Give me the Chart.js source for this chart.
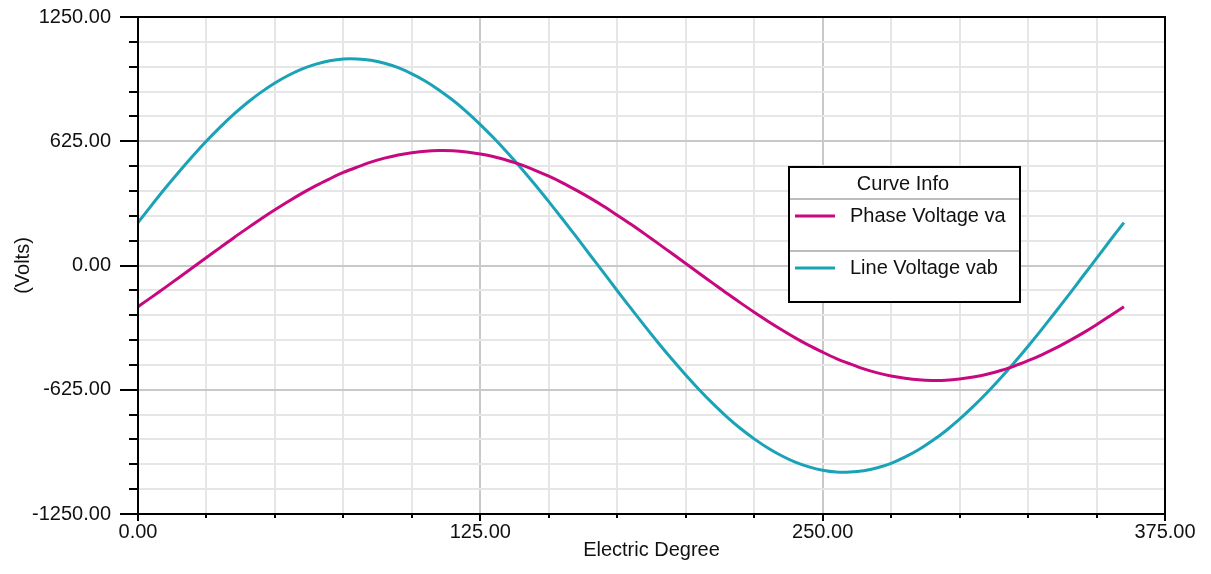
<!DOCTYPE html>
<html>
<head>
<meta charset="utf-8">
<script src="https://cdn.jsdelivr.net/npm/chart.js@4/dist/chart.umd.min.js"></script>
<style>
  html, body { margin: 0; padding: 0; background: #fff; }
  #wrap { width: 1211px; height: 574px; }
</style>
</head>
<body>
<div id="wrap"><canvas id="chart-volts" width="1211" height="574"></canvas></div>
<script>
/* electric degree samples, every 5 deg */
const DEGREES = [
  0, 5, 10, 15, 20, 25, 30, 35, 40, 45, 50, 55, 60, 65, 70, 75, 80, 85, 90, 95,
  100, 105, 110, 115, 120, 125, 130, 135, 140, 145, 150, 155, 160, 165, 170, 175,
  180, 185, 190, 195, 200, 205, 210, 215, 220, 225, 230, 235, 240, 245, 250, 255,
  260, 265, 270, 275, 280, 285, 290, 295, 300, 305, 310, 315, 320, 325, 330, 335,
  340, 345, 350, 355, 360
];
const PHASE_VA = [
  -207, -159, -110, -60, -10, 40, 90, 140, 188, 235, 280, 323, 364, 402, 436, 468,
  495, 520, 540, 556, 567, 575, 578, 577, 571, 561, 547, 528, 506, 479, 449, 416,
  379, 340, 298, 253, 207, 159, 110, 60, 10, -40, -90, -140, -188, -235, -280, -323,
  -364, -402, -436, -468, -495, -520, -540, -556, -567, -575, -578, -577, -571, -561,
  -547, -528, -506, -479, -449, -416, -379, -340, -298, -253, -207
];
const LINE_VAB = [
  216, 304, 390, 472, 551, 626, 696, 761, 820, 872, 918, 957, 989, 1013, 1030, 1039,
  1039, 1032, 1017, 995, 964, 927, 882, 831, 773, 709, 640, 566, 488, 406, 321, 234,
  145, 54, -36, -127, -216, -304, -390, -472, -551, -626, -696, -761, -820, -872,
  -918, -957, -989, -1013, -1030, -1039, -1039, -1032, -1017, -995, -964, -927, -882,
  -831, -773, -709, -640, -566, -488, -406, -321, -234, -145, -54, 36, 127, 216
];
const SERIES_NAMES = ['Phase Voltage va', 'Line Voltage vab'];
const SERIES_COLORS = ['#c8087f', '#1aa2b6'];
const X_TICKS = [0, 125, 250, 375];
const Y_TICKS = [-1250, -625, 0, 625, 1250];

const FONT = {family: 'Liberation Sans, Arial, sans-serif', size: 20};

function pts(ys) {
  return DEGREES.map((d, i) => ({x: d, y: ys[i]}));
}

const isMajorX = (v) => X_TICKS.includes(v);
const isMajorY = (v) => Y_TICKS.includes(v);

/* frame, outside ticks and the "Curve Info" box */
const frame = {
  id: 'frame',
  afterDraw(chart) {
    const {ctx, chartArea: a} = chart;
    const xs = chart.scales.x, ys = chart.scales.y;
    ctx.save();
    ctx.strokeStyle = '#000';
    ctx.lineWidth = 2;
    ctx.strokeRect(a.left, a.top, a.right - a.left, a.bottom - a.top);
    ctx.beginPath();
    for (let v = 0; v <= 375; v += 25) {
      const px = Math.round(xs.getPixelForValue(v));
      ctx.moveTo(px, a.bottom);
      ctx.lineTo(px, a.bottom + (isMajorX(v) ? 7 : 4));
    }
    for (let v = -1250; v <= 1250; v += 125) {
      const py = Math.round(ys.getPixelForValue(v));
      ctx.moveTo(a.left, py);
      ctx.lineTo(a.left - (isMajorY(v) ? 18 : 9), py);
    }
    ctx.stroke();

    // legend box
    const L = 789, T = 167, R = 1020, B = 302;
    ctx.fillStyle = '#fff';
    ctx.fillRect(L, T, R - L, B - T);
    ctx.strokeStyle = '#bdbdbd';
    ctx.lineWidth = 2;
    ctx.beginPath();
    ctx.moveTo(L, 199); ctx.lineTo(R, 199);
    ctx.moveTo(L, 251); ctx.lineTo(R, 251);
    ctx.stroke();
    ctx.strokeStyle = '#000';
    ctx.lineWidth = 2;
    ctx.strokeRect(L, T, R - L, B - T);

    ctx.font = '20px ' + FONT.family;
    ctx.fillStyle = '#111';
    ctx.textBaseline = 'middle';
    ctx.textAlign = 'center';
    ctx.fillText('Curve Info', 903, 184);
    ctx.textAlign = 'left';
    const rows = [216, 268];
    chart.data.datasets.forEach((ds, i) => {
      ctx.strokeStyle = ds.borderColor;
      ctx.lineWidth = 3;
      ctx.beginPath();
      ctx.moveTo(795, rows[i]);
      ctx.lineTo(835, rows[i]);
      ctx.stroke();
      ctx.fillText(ds.label, 850, rows[i]);
    });
    ctx.restore();
  },
};

new Chart(document.getElementById('chart-volts').getContext('2d'), {
  type: 'line',
  data: {
    datasets: [
      {label: SERIES_NAMES[0], data: pts(PHASE_VA), borderColor: SERIES_COLORS[0],
       borderWidth: 3, pointRadius: 0, tension: 0.3, fill: false},
      {label: SERIES_NAMES[1], data: pts(LINE_VAB), borderColor: SERIES_COLORS[1],
       borderWidth: 3, pointRadius: 0, tension: 0.3, fill: false},
    ],
  },
  options: {
    responsive: false,
    animation: false,
    layout: {padding: {top: 17, right: 46, left: 0, bottom: 0}},
    plugins: {legend: {display: false}, tooltip: {enabled: false}},
    scales: {
      x: {
        type: 'linear', min: 0, max: 375,
        afterFit: (s) => { s.height = 60; s.paddingLeft = 0; s.paddingRight = 0; },
        border: {display: false},
        grid: {drawTicks: false, lineWidth: 2,
               color: (c) => isMajorX(c.tick.value) ? '#c9c9c9' : '#e6e6e6'},
        ticks: {stepSize: 25, autoSkip: false, maxRotation: 0, padding: 6,
                color: '#111', font: FONT,
                callback: (v) => isMajorX(v) ? v.toFixed(2) : ''},
        title: {display: true, text: 'Electric Degree', color: '#111', font: FONT,
                padding: {top: 0, bottom: 12}},
      },
      y: {
        type: 'linear', min: -1250, max: 1250,
        afterFit: (s) => { s.width = 138; s.paddingTop = 0; s.paddingBottom = 0; },
        border: {display: false},
        grid: {drawTicks: false, lineWidth: 2,
               color: (c) => isMajorY(c.tick.value) ? '#c9c9c9' : '#e6e6e6'},
        ticks: {stepSize: 125, autoSkip: false, padding: 27,
                color: '#111', font: FONT,
                callback: (v) => isMajorY(v) ? v.toFixed(2) : ''},
        title: {display: true, text: '(Volts)', color: '#111', font: FONT,
                padding: {top: 11, bottom: 0}},
      },
    },
  },
  plugins: [frame],
});
</script>
</body>
</html>
